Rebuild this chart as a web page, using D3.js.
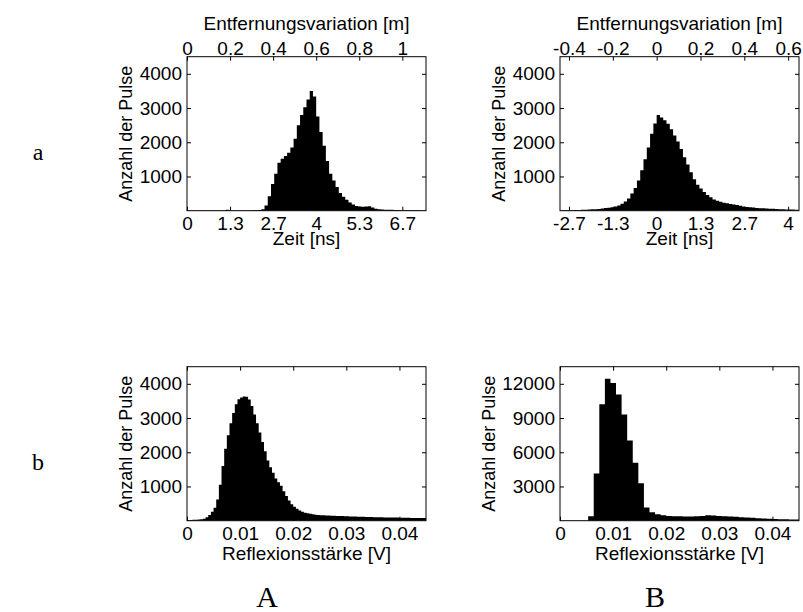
<!DOCTYPE html>
<html>
<head>
<meta charset="utf-8">
<script src="https://cdn.jsdelivr.net/npm/d3@7"></script>
<style>
  body { margin: 0; background: #fff; }
  .sans { font-family: "Liberation Sans", Arial, Helvetica, sans-serif; }
  .serif { font-family: "Liberation Serif", "DejaVu Serif", serif; }
</style>
</head>
<body>
<svg id="fig" width="803" height="612"></svg>
<script>
// ---- Laufzeit-Histogramme (Zeit in ns), Bins von 0.1 ns ----
const timeBinWidth = 0.1;

// Spalte A, Zeile a: Bins ab 0 ns
const timeStartA = 0;
const timeCountsA = [
  5, 5, 5, 5, 5, 5, 5, 5, 5, 5,
  5, 5, 30, 8, 5, 5, 5, 5, 5, 8,
  10, 15, 20, 40, 150, 420, 780, 1080, 1400, 1520,
  1600, 1690, 1850, 2100, 2500, 2800, 3020, 3250, 3500, 3340,
  2750, 2300, 1900, 1450, 1080, 880, 690, 520, 410, 320,
  240, 180, 140, 120, 115, 125, 130, 90, 60, 45,
  35, 30, 25, 25, 20, 20, 15, 15, 12, 12,
  10, 10, 8, 8
];

// Spalte B, Zeile a: Bins ab -2.9 ns
const timeStartB = -2.9;
const timeCountsB = [
  10, 10, 12, 15, 18, 20, 25, 30, 38, 42,
  45, 50, 62, 78, 88, 100, 125, 150, 200, 270,
  360, 500, 660, 880, 1180, 1500, 1850, 2250, 2550, 2800,
  2720, 2640, 2540, 2380, 2200, 2020, 1800, 1560, 1350, 1120,
  920, 760, 650, 550, 460, 390, 330, 290, 260, 235,
  215, 195, 180, 165, 145, 120, 105, 98, 90, 80,
  75, 70, 65, 60, 55, 50, 45, 40, 38, 35,
  32, 30
];

// ---- Reflexionsstärke-Histogramme (V) ----
const ampStartA = 0;
const ampBinWidthA = 0.0005;
const ampCountsA = [
  20, 22, 25, 28, 32, 40, 60, 100, 170, 260,
  380, 620, 1050, 1600, 2100, 2500, 2850, 3150, 3400, 3550,
  3600, 3630, 3620, 3540, 3350, 3100, 2850, 2580, 2300, 2030,
  1760, 1560, 1400, 1230, 1120, 1020, 860, 720, 590, 480,
  410, 350, 300, 260, 235, 215, 200, 185, 175, 168,
  162, 158, 155, 150, 146, 142, 140, 138, 135, 132,
  128, 125, 122, 120, 118, 116, 112, 110, 108, 106,
  104, 102, 100, 98, 96, 95, 94, 92, 90, 90,
  88, 86, 85, 84, 82, 80, 80, 78, 78, 76
];

const ampStartB = 0.0053;
const ampBinWidthB = 0.00105;
const ampCountsB = [
  400, 4130, 10200, 12450, 12080, 11060, 9310, 7040, 5090, 3290,
  1160, 730, 560, 470, 420, 400, 380, 370, 370, 380,
  420, 470, 460, 420, 390, 370, 340, 310, 280, 250,
  220, 190, 170, 150, 130, 120, 110, 100
];

// ---- Achsen ----
const metersPerNs = 0.15;                    // Entfernung = c/2 * Zeit
const distTicksA = [0, 0.2, 0.4, 0.6, 0.8, 1];
const distTicksB = [-0.4, -0.2, 0, 0.2, 0.4, 0.6];
const timeDomainA = [0, 7.4];
const timeDomainB = [-2.94, 4.33];
const ampDomain = [0, 0.045];
const ampTicks = [0, 0.01, 0.02, 0.03, 0.04];
const countTicksSmall = [1000, 2000, 3000, 4000];
const countTicksLarge = [3000, 6000, 9000, 12000];
const countDomainSmall = [0, 4500];
const countDomainLarge = [0, 13500];

const rowLabels = ["a", "b"];
const colLabels = ["A", "B"];
const yTitle = "Anzahl der Pulse";
const topTitle = "Entfernungsvariation [m]";
const timeTitle = "Zeit [ns]";
const ampTitle = "Reflexionsstärke [V]";

// ---- Zeichnung ----
const svg = d3.select("#fig");
const fontSize = 19;
const yTitleSize = 18;
const tickLen = 4;

const fmtNum = v => d3.format("~g")(+v.toFixed(4)).replace("\u2212", "-");
const fmtTime = v => {
  const r = Math.round(v * 10) / 10;
  const s = Math.abs(r - Math.round(r)) < 1e-9 ? String(Math.round(r)) : r.toFixed(1);
  return s.replace("\u2212", "-");
};

const layout = {
  colX: [187, 560],
  width: 239,
  rowY: [56.7, 366.7],
  height: 154
};

let clipId = 0;
function panel(cfg) {
  const { left, top, width, height } = cfg;
  const g = svg.append("g").attr("transform", `translate(${left},${top})`);
  const x = d3.scaleLinear().domain(cfg.xDomain).range([0, width]);
  const y = d3.scaleLinear().domain(cfg.yDomain).range([height, 0]);

  const id = "clip" + (clipId++);
  g.append("clipPath").attr("id", id)
    .append("rect").attr("width", width).attr("height", height);

  // Histogramm als Treppenfläche (eine Stufe pro Bin)
  const bins = cfg.counts.map((c, i) => ({ x0: cfg.start + i * cfg.binWidth, c }));
  bins.push({ x0: cfg.start + cfg.counts.length * cfg.binWidth, c: cfg.counts[cfg.counts.length - 1] });
  const area = d3.area()
    .x(d => x(d.x0))
    .y0(height)
    .y1(d => y(d.c))
    .curve(d3.curveStepAfter);
  g.append("path")
    .attr("clip-path", `url(#${id})`)
    .datum(bins)
    .attr("d", area)
    .attr("fill", "#000");

  // untere Achse
  const bottom = d3.axisBottom(x).tickValues(cfg.xTicks)
    .tickSize(-tickLen).tickPadding(6).tickFormat(cfg.xFormat);
  g.append("g").attr("transform", `translate(0,${height})`).call(bottom);

  // obere Achse
  const topAx = d3.axisTop(x).tickValues(cfg.topTicks || cfg.xTicks)
    .tickSize(-tickLen).tickPadding(2)
    .tickFormat(cfg.topFormat ? cfg.topFormat : () => "");
  g.append("g").call(topAx);

  // linke Achse
  const leftAx = d3.axisLeft(y).tickValues(cfg.yTicks)
    .tickSize(-tickLen).tickPadding(5).tickFormat(d => String(d));
  g.append("g").call(leftAx);

  // rechte Achse
  const rightAx = d3.axisRight(y).tickValues(cfg.yTicks)
    .tickSize(-tickLen).tickFormat(() => "");
  g.append("g").attr("transform", `translate(${width},0)`).call(rightAx);

  g.selectAll(".domain").remove();
  g.selectAll(".tick line").attr("stroke", "#000").attr("stroke-width", 1);
  g.selectAll(".tick text").attr("font-size", fontSize).attr("fill", "#000")
    .attr("font-family", "Liberation Sans, Arial, sans-serif");

  // Rahmen
  g.append("rect").attr("width", width).attr("height", height)
    .attr("fill", "none").attr("stroke", "#000").attr("stroke-width", 1);

  // Achsentitel
  g.append("text").attr("class", "sans")
    .attr("x", width / 2).attr("y", height + cfg.xTitleDy)
    .attr("text-anchor", "middle").attr("font-size", fontSize)
    .text(cfg.xTitle);
  if (cfg.topTitle) {
    g.append("text").attr("class", "sans")
      .attr("x", width / 2).attr("y", -27)
      .attr("text-anchor", "middle").attr("font-size", fontSize)
      .text(cfg.topTitle);
  }
  g.append("text").attr("class", "sans")
    .attr("transform", `translate(${cfg.yTitleDx},${height / 2}) rotate(-90)`)
    .attr("text-anchor", "middle").attr("font-size", yTitleSize)
    .text(yTitle);
}

// Zeile a: Laufzeit
[
  { start: timeStartA, counts: timeCountsA, domain: timeDomainA, dist: distTicksA },
  { start: timeStartB, counts: timeCountsB, domain: timeDomainB, dist: distTicksB }
].forEach((p, col) => {
  const tTicks = p.dist.map(m => m / metersPerNs);
  panel({
    left: layout.colX[col], top: layout.rowY[0], width: layout.width, height: layout.height,
    xDomain: p.domain, yDomain: countDomainSmall,
    start: p.start, binWidth: timeBinWidth, counts: p.counts,
    xTicks: tTicks, xFormat: fmtTime,
    topTicks: tTicks, topFormat: (d, i) => fmtNum(p.dist[i]),
    yTicks: countTicksSmall, yTitleDx: -55,
    xTitle: timeTitle, xTitleDy: 34.5, topTitle: topTitle
  });
});

// Zeile b: Reflexionsstärke
[
  { start: ampStartA, bw: ampBinWidthA, counts: ampCountsA, dom: countDomainSmall, yt: countTicksSmall, dx: -55 },
  { start: ampStartB, bw: ampBinWidthB, counts: ampCountsB, dom: countDomainLarge, yt: countTicksLarge, dx: -65 }
].forEach((p, col) => {
  panel({
    left: layout.colX[col], top: layout.rowY[1], width: layout.width, height: layout.height,
    xDomain: ampDomain, yDomain: p.dom,
    start: p.start, binWidth: p.bw, counts: p.counts,
    xTicks: ampTicks, xFormat: fmtNum,
    yTicks: p.yt, yTitleDx: p.dx,
    xTitle: ampTitle, xTitleDy: 39.5
  });
});

// Zeilen- und Spaltenbeschriftung
const rowLabelX = 38;
const colLabelX = [267, 655];
svg.selectAll("text.row").data(rowLabels).join("text")
  .attr("class", "row serif")
  .attr("x", rowLabelX)
  .attr("y", (d, i) => layout.rowY[i] + layout.height / 2 + 26)
  .attr("text-anchor", "middle").attr("font-size", 24)
  .text(d => d);
svg.selectAll("text.col").data(colLabels).join("text")
  .attr("class", "col serif")
  .attr("x", (d, i) => colLabelX[i])
  .attr("y", 607)
  .attr("text-anchor", "middle").attr("font-size", 30)
  .text(d => d);
</script>
</body>
</html>
